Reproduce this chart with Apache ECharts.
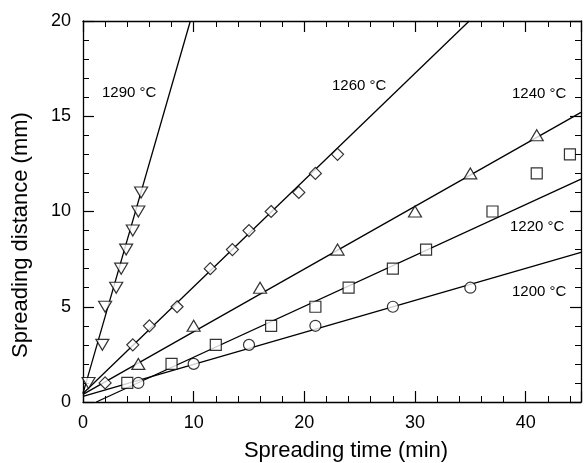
<!DOCTYPE html>
<html>
<head>
<meta charset="utf-8">
<script src="https://cdn.jsdelivr.net/npm/echarts@6/dist/echarts.min.js"></script>
<style>
html,body{margin:0;padding:0;background:#fff;}
#c{width:584px;height:463px;}
</style>
</head>
<body>
<div id="c"></div>
<script>
// ---- data ----
const t1290 = [0.5, 1.75, 2.0, 3.0, 3.45, 3.9, 4.5, 5.0, 5.25];
const d1290 = [1, 3, 5, 6, 7, 8, 9, 10, 11];
const t1260 = [2, 4.5, 6, 8.5, 11.5, 13.5, 15, 17, 19.5, 21, 23];
const d1260 = [1, 3, 4, 5, 7, 8, 9, 10, 11, 12, 13];
const t1240 = [5, 10, 16, 23, 30, 35, 41];
const d1240 = [2, 4, 6, 8, 10, 12, 14];
const t1220 = [4, 8, 12, 17, 21, 24, 28, 31, 37, 41, 44];
const d1220 = [1, 2, 3, 4, 5, 6, 7, 8, 10, 12, 13];
const t1200 = [5, 10, 15, 21, 28, 35];
const d1200 = [1, 2, 3, 4, 5, 6];

// fitted line end points (x, y)
const fit1290x = [0, 9.7],  fit1290y = [0.45, 20];
const fit1260x = [0, 34.9], fit1260y = [0.45, 20];
const fit1240x = [0, 45],   fit1240y = [0.4, 15.2];
const fit1220x = [1.2, 45], fit1220y = [0, 11.7];
const fit1200x = [0, 45],   fit1200y = [0.3, 7.85];

const seriesLabels = ['1290 °C', '1260 °C', '1240 °C', '1220 °C', '1200 °C'];
const xTitle = 'Spreading time (min)';
const yTitle = 'Spreading distance (mm)';

const zip = (a, b) => a.map((v, i) => [v, b[i]]);
const FONT = '"Liberation Sans", Arial, Helvetica, sans-serif';

function fitSeries(xs, ys) {
  return {
    type: 'line', data: zip(xs, ys), showSymbol: false, symbol: 'none',
    lineStyle: { color: '#000', width: 1.3 }, silent: true, z: 2, animation: false
  };
}
function ptSeries(xs, ys, symbol, size, rotate) {
  return {
    type: 'scatter', data: zip(xs, ys), symbol: symbol, symbolSize: size,
    symbolRotate: rotate || 0,
    itemStyle: { color: '#fff', borderColor: '#000', borderWidth: 1.2 },
    z: 3, animation: false
  };
}

const axisCommon = {
  type: 'value',
  axisLine: { show: true, onZero: false, lineStyle: { color: '#000', width: 1.3 } },
  axisTick: { show: true, inside: true, length: 11, lineStyle: { color: '#000', width: 1.2 } },
  minorTick: { show: true, splitNumber: 5, length: 6, lineStyle: { color: '#000', width: 1 } },
  splitLine: { show: false }
};

const chart = echarts.init(document.getElementById('c'), null, { renderer: 'canvas' });
chart.setOption({
  animation: false,
  backgroundColor: '#fff',
  grid: { left: 83, right: 1, top: 21, bottom: 61 },
  xAxis: [
    Object.assign({}, axisCommon, {
      position: 'bottom', min: 0, max: 45, interval: 10,
      axisLabel: { color: '#000', fontSize: 18, fontFamily: FONT, margin: 12,
        formatter: v => (v > 40 ? '' : v) }
    }),
    Object.assign({}, axisCommon, {
      position: 'top', min: 0, max: 45, interval: 10,
      axisLabel: { show: false }
    })
  ],
  yAxis: [
    Object.assign({}, axisCommon, {
      position: 'left', min: 0, max: 20, interval: 5,
      axisLabel: { color: '#000', fontSize: 18, fontFamily: FONT, margin: 12 }
    }),
    Object.assign({}, axisCommon, {
      position: 'right', min: 0, max: 20, interval: 5,
      axisLabel: { show: false }
    })
  ],
  series: [
    fitSeries(fit1290x, fit1290y),
    fitSeries(fit1260x, fit1260y),
    fitSeries(fit1240x, fit1240y),
    fitSeries(fit1220x, fit1220y),
    fitSeries(fit1200x, fit1200y),
    ptSeries(t1290, d1290, 'triangle', [13, 11], 180),
    ptSeries(t1260, d1260, 'diamond', [12, 12]),
    ptSeries(t1240, d1240, 'triangle', [13, 11]),
    ptSeries(t1220, d1220, 'rect', [11, 11]),
    ptSeries(t1200, d1200, 'circle', 11)
  ],
  graphic: [
    { type: 'text', left: 102, top: 85, style: { text: seriesLabels[0], fill: '#000', font: '15px ' + FONT } },
    { type: 'text', left: 332, top: 78, style: { text: seriesLabels[1], fill: '#000', font: '15px ' + FONT } },
    { type: 'text', left: 512, top: 86, style: { text: seriesLabels[2], fill: '#000', font: '15px ' + FONT } },
    { type: 'text', left: 510, top: 219, style: { text: seriesLabels[3], fill: '#000', font: '15px ' + FONT } },
    { type: 'text', left: 512, top: 284, style: { text: seriesLabels[4], fill: '#000', font: '15px ' + FONT } },
    { type: 'text', x: 346, y: 451, style: { text: xTitle, fill: '#000', font: '22px ' + FONT, align: 'center', verticalAlign: 'middle' } },
    { type: 'text', x: 21, y: 235, rotation: Math.PI / 2, style: { text: yTitle, fill: '#000', font: '22px ' + FONT, align: 'center', verticalAlign: 'middle' } }
  ]
});
</script>
</body>
</html>
